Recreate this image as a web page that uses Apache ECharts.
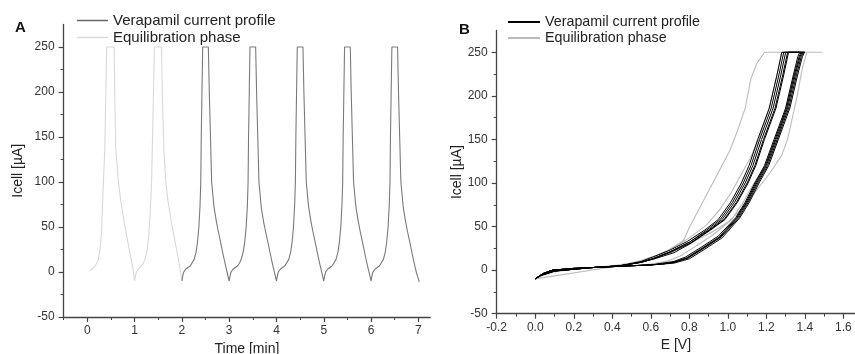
<!DOCTYPE html>
<html><head><meta charset="utf-8">
<script src="https://cdn.jsdelivr.net/npm/echarts@6/dist/echarts.min.js"></script>
<style>html,body{margin:0;padding:0;background:#fff}#c{width:855px;height:354px}</style>
</head><body><div id="c"></div>
<script>
// ---------- names / ticks ----------
const nameVer = 'Verapamil current profile';
const nameEq = 'Equilibration phase';
const aTicksX = [0, 1, 2, 3, 4, 5, 6, 7];
const aMinorX = [-0.5, 0.5, 1.5, 2.5, 3.5, 4.5, 5.5, 6.5];
const yTicks = [-50, 0, 50, 100, 150, 200, 250];
const yMinor = [-25, 25, 75, 125, 175, 225];
const bTicksX = [-0.2, 0.0, 0.2, 0.4, 0.6, 0.8, 1.0, 1.2, 1.4, 1.6];
const bMinorX = [-0.1, 0.1, 0.3, 0.5, 0.7, 0.9, 1.1, 1.3, 1.5];

// ---------- Panel A : current vs time ----------
const eqCycle1 = [[0.06,1],[0.12,4],[0.18,8],[0.23,13],[0.27,25],[0.30,43],[0.32,70],[0.34,98],[0.37,135],[0.39,190],[0.41,250],[0.57,250],[0.58,200],[0.60,140],[0.65,105],[0.70,82],[0.76,62],[0.81,47],[0.87,30],[0.93,14],[0.97,3],[1.00,-10]];
const eqCycle2 = [[1.00,-10],[1.02,-4],[1.04,0],[1.08,3],[1.13,6],[1.18,9],[1.22,14],[1.26,22],[1.30,40],[1.33,65],[1.36,100],[1.38,150],[1.40,200],[1.42,250],[1.57,250],[1.59,190],[1.62,135],[1.66,100],[1.71,78],[1.77,58],[1.82,44],[1.87,30],[1.92,16],[1.96,4],[2.00,-10]];
const verCycle3 = [[2.00,-10],[2.02,-4],[2.04,0],[2.08,3],[2.13,5],[2.18,7],[2.22,9],[2.26,14],[2.30,22],[2.33,33],[2.36,50],[2.385,75],[2.40,100],[2.41,150],[2.425,200],[2.44,250],[2.56,250],[2.58,200],[2.605,150],[2.63,100],[2.68,72],[2.73,56],[2.77,45],[2.82,33],[2.87,20],[2.92,8],[2.96,-1],[3.00,-10]];
const verCycle4 = [[3.00,-10],[3.02,-4],[3.04,0],[3.08,3],[3.13,5],[3.18,7],[3.22,10],[3.26,15],[3.30,23],[3.33,34],[3.36,50],[3.385,74],[3.40,100],[3.41,150],[3.425,200],[3.44,250],[3.56,250],[3.58,200],[3.605,150],[3.63,100],[3.68,71],[3.73,55],[3.77,45],[3.82,33],[3.87,20],[3.92,8],[3.96,-1],[4.00,-10]];
const verCycle5 = [[4.00,-10],[4.02,-4],[4.04,0],[4.08,3],[4.13,5],[4.18,7],[4.22,9],[4.26,14],[4.30,22],[4.33,33],[4.36,50],[4.385,75],[4.40,100],[4.41,150],[4.425,200],[4.44,250],[4.56,250],[4.58,200],[4.605,150],[4.63,100],[4.68,72],[4.73,56],[4.77,45],[4.82,33],[4.87,20],[4.92,8],[4.96,-1],[5.00,-10]];
const verCycle6 = [[5.00,-10],[5.02,-4],[5.04,0],[5.08,3],[5.13,5],[5.18,7],[5.22,9],[5.26,14],[5.30,22],[5.33,33],[5.36,50],[5.385,75],[5.40,100],[5.41,150],[5.425,200],[5.44,250],[5.56,250],[5.58,200],[5.605,150],[5.63,100],[5.68,72],[5.73,56],[5.77,45],[5.82,33],[5.87,20],[5.92,8],[5.96,-1],[6.00,-10]];
const verCycle7 = [[6.00,-10],[6.02,-4],[6.04,0],[6.08,3],[6.13,5],[6.18,7],[6.22,9],[6.26,14],[6.30,22],[6.33,33],[6.36,50],[6.385,75],[6.40,100],[6.41,150],[6.425,200],[6.44,250],[6.56,250],[6.58,200],[6.605,150],[6.63,100],[6.68,72],[6.73,56],[6.77,45],[6.82,33],[6.87,20],[6.92,8],[6.96,-1],[7.02,-11]];

// ---------- Panel B : current vs potential ----------
const eqLoopB1 = [[0,-10],[0.44,5],[0.62,13],[0.77,34],[0.80,49],[1.01,137],[1.05,160],[1.09,186],[1.12,220],[1.15,237],[1.19,250],[1.49,250],[1.41,250],[1.385,230],[1.36,200],[1.33,170],[1.31,150],[1.28,132],[1.22,112],[1.15,92],[1.08,72],[1.00,55],[0.92,44],[0.85,36],[0.76,27],[0.68,19],[0.60,13],[0.50,8],[0.40,5],[0.30,3],[0.20,2],[0.10,0],[0.04,-5],[0,-10]];
const eqLoopB2 = [[0,-10],[0.04,-6],[0.10,-2],[0.20,1],[0.30,3],[0.40,4],[0.50,5],[0.60,7],[0.68,10],[0.75,16],[0.83,27],[0.92,40],[1.02,58],[1.08,78],[1.13,98],[1.19,118],[1.23,135],[1.26,150],[1.30,186],[1.34,222],[1.37,244],[1.40,250],[1.42,250],[1.28,250],[1.255,224],[1.215,186],[1.16,150],[1.115,128],[1.07,110],[1.02,90],[0.96,70],[0.89,52],[0.80,37],[0.72,26],[0.63,17],[0.55,11],[0.45,6],[0.30,3],[0.20,2],[0.10,0],[0.04,-4],[0,-10]];
const verLoopB1 = [[0,-10],[0.03,-6],[0.10,-1],[0.20,1],[0.30,3],[0.40,4],[0.50,5],[0.60,6],[0.66,8],[0.72,10],[0.78,15],[0.86,26],[0.95,39],[1.04,60],[1.09,78],[1.14,100],[1.19,120],[1.24,150],[1.30,186],[1.34,224],[1.363,245],[1.373,250],[1.38,250],[1.28,250],[1.255,224],[1.215,186],[1.155,150],[1.11,120],[1.07,100],[1.015,78],[0.95,58],[0.88,46],[0.79,33],[0.70,23],[0.61,15],[0.55,10],[0.44,5],[0.30,3],[0.20,2],[0.09,0],[0.04,-4],[0,-10]];
const verLoopB2 = [[0,-10],[0.03,-6],[0.10,-1],[0.20,1],[0.30,3],[0.40,4],[0.50,5],[0.60,6],[0.66,7],[0.72,9],[0.785,14],[0.865,25],[0.955,38],[1.045,60],[1.095,78],[1.145,100],[1.195,120],[1.245,150],[1.305,186],[1.345,224],[1.37,245],[1.38,250],[1.39,250],[1.29,250],[1.265,224],[1.225,186],[1.165,150],[1.12,120],[1.08,100],[1.025,78],[0.96,58],[0.89,46],[0.80,32],[0.70,21],[0.61,13],[0.55,9],[0.44,5],[0.30,3],[0.20,2],[0.09,0],[0.04,-4],[0,-10]];
const verLoopB3 = [[0,-10],[0.03,-6],[0.10,-1],[0.20,1],[0.30,3],[0.40,4],[0.50,5],[0.60,6],[0.66,7],[0.72,9],[0.79,14],[0.87,25],[0.96,38],[1.05,60],[1.10,78],[1.15,100],[1.20,120],[1.25,150],[1.31,186],[1.35,224],[1.375,245],[1.385,250],[1.40,250],[1.30,250],[1.275,224],[1.235,186],[1.175,150],[1.13,120],[1.09,100],[1.035,78],[0.97,58],[0.90,46],[0.80,32],[0.70,21],[0.61,13],[0.55,9],[0.44,5],[0.30,3],[0.20,2],[0.09,0],[0.04,-4],[0,-10]];
const verLoopB4 = [[0,-10],[0.03,-6],[0.10,-1],[0.20,1],[0.30,3],[0.40,4],[0.50,5],[0.60,6],[0.66,7],[0.72,9],[0.795,14],[0.875,25],[0.965,38],[1.056,60],[1.106,78],[1.156,100],[1.206,120],[1.256,150],[1.316,186],[1.356,224],[1.381,245],[1.391,250],[1.40,250],[1.31,250],[1.285,224],[1.245,186],[1.185,150],[1.14,120],[1.10,100],[1.045,78],[0.98,58],[0.905,46],[0.805,31],[0.71,21],[0.61,13],[0.55,9],[0.44,5],[0.30,3],[0.20,2],[0.09,0],[0.04,-4],[0,-10]];
const verLoopB5 = [[0,-10],[0.03,-6],[0.10,-1],[0.20,1],[0.30,3],[0.40,4],[0.50,5],[0.60,6],[0.66,7],[0.72,8],[0.80,13],[0.88,24],[0.97,37],[1.062,60],[1.112,78],[1.162,100],[1.212,120],[1.262,150],[1.322,186],[1.362,224],[1.387,245],[1.397,250],[1.405,250],[1.315,250],[1.29,224],[1.25,186],[1.19,150],[1.145,120],[1.105,100],[1.05,78],[0.985,58],[0.91,46],[0.81,31],[0.72,20],[0.62,13],[0.55,9],[0.44,5],[0.30,3],[0.20,2],[0.09,0],[0.04,-4],[0,-10]];

// ---------- build ----------
const aEq = [].concat(eqCycle1, eqCycle2);
const aVer = [].concat(verCycle3, verCycle4, verCycle5, verCycle6, verCycle7);
const bEq = [].concat(eqLoopB1, eqLoopB2);
const bVer = [].concat(verLoopB1, verLoopB2, verLoopB3, verLoopB4, verLoopB5);

const FONT = 'Liberation Sans, Arial, sans-serif';
const AX = '#444';

function mainX(grid, min, max, ticks, fmt, name, gap) {
  return {
    type: 'value', gridIndex: grid, min: min, max: max, position: 'bottom',
    name: name, nameLocation: 'middle', nameGap: gap,
    nameTextStyle: {fontFamily: FONT, fontSize: 14, color: '#222'},
    axisLine: {show: true, onZero: false, lineStyle: {color: AX, width: 1.3}},
    axisTick: {show: true, length: 5, customValues: ticks, lineStyle: {color: AX, width: 1.2}},
    axisLabel: {show: true, customValues: ticks, margin: 8, fontFamily: FONT, fontSize: 12, color: '#333', formatter: fmt},
    splitLine: {show: false}
  };
}
function minorX(grid, min, max, ticks) {
  return {
    type: 'value', gridIndex: grid, min: min, max: max, position: 'bottom', offset: 0,
    axisLine: {show: false, onZero: false},
    axisTick: {show: true, length: 3, customValues: ticks, lineStyle: {color: AX, width: 1}},
    axisLabel: {show: false}, splitLine: {show: false}
  };
}
function mainY(grid, gap) {
  return {
    type: 'value', gridIndex: grid, min: -50, max: 275, position: 'left',
    name: 'Icell [µA]', nameLocation: 'middle', nameGap: gap, nameRotate: 90,
    nameTextStyle: {fontFamily: FONT, fontSize: 14, color: '#222'},
    axisLine: {show: true, onZero: false, lineStyle: {color: AX, width: 1.3}},
    axisTick: {show: true, length: 5, customValues: yTicks, lineStyle: {color: AX, width: 1.2}},
    axisLabel: {show: true, customValues: yTicks, margin: 9, fontFamily: FONT, fontSize: 12, color: '#333'},
    splitLine: {show: false}
  };
}
function minorY(grid) {
  return {
    type: 'value', gridIndex: grid, min: -50, max: 275, position: 'left', offset: 0,
    axisLine: {show: false, onZero: false},
    axisTick: {show: true, length: 3, customValues: yMinor, lineStyle: {color: AX, width: 1}},
    axisLabel: {show: false}, splitLine: {show: false}
  };
}

const chart = echarts.init(document.getElementById('c'), null, {renderer: 'canvas'});
chart.setOption({
  animation: false,
  backgroundColor: '#fff',
  title: [
    {text: 'A', left: 15, top: 20, padding: 0, textStyle: {fontFamily: FONT, fontSize: 15, fontWeight: 'bold', color: '#111'}},
    {text: 'B', left: 459, top: 22, padding: 0, textStyle: {fontFamily: FONT, fontSize: 15, fontWeight: 'bold', color: '#111'}}
  ],
  legend: [
    {left: 77, top: 13, padding: 0, orient: 'vertical', itemWidth: 31, itemHeight: 1.5, itemGap: 2, icon: 'rect', selectedMode: false,
     textStyle: {fontFamily: FONT, fontSize: 15, color: '#222'},
     data: [{name: nameVer, itemStyle: {color: '#666'}}, {name: nameEq, itemStyle: {color: '#d8d8d8'}}]},
    {left: 508, top: 15, padding: 0, orient: 'vertical', itemWidth: 32, itemHeight: 2, itemGap: 2, icon: 'rect', selectedMode: false,
     textStyle: {fontFamily: FONT, fontSize: 14.3, color: '#222'},
     data: [{name: nameVer, itemStyle: {color: '#000'}}, {name: nameEq, itemStyle: {color: '#bbb'}}]}
  ],
  grid: [
    {left: 63.6, top: 24.5, width: 366.6, height: 292.5, containLabel: false, outerBoundsMode: 'none'},
    {left: 496.7, top: 30.5, width: 358.3, height: 283.2, containLabel: false, outerBoundsMode: 'none'}
  ],
  xAxis: [
    mainX(0, -0.5, 7.25, aTicksX, null, 'Time [min]', 23),
    minorX(0, -0.5, 7.25, aMinorX),
    mainX(1, -0.2, 1.66, bTicksX, function (v) { return v.toFixed(1); }, 'E [V]', 24),
    minorX(1, -0.2, 1.66, bMinorX)
  ],
  yAxis: [mainY(0, 38), minorY(0), mainY(1, 25), minorY(1)],
  series: [
    {name: nameEq, type: 'line', xAxisIndex: 0, yAxisIndex: 0, data: aEq, showSymbol: false, symbol: 'none', color: '#d8d8d8', lineStyle: {width: 1.1, color: '#d8d8d8'}},
    {name: nameVer, type: 'line', xAxisIndex: 0, yAxisIndex: 0, data: aVer, showSymbol: false, symbol: 'none', color: '#7a7a7a', lineStyle: {width: 1.1, color: '#7a7a7a'}},
    {name: nameEq, type: 'line', xAxisIndex: 2, yAxisIndex: 2, data: bEq, showSymbol: false, symbol: 'none', color: '#bbb', lineStyle: {width: 1.1, color: '#bbb'}},
    {name: nameVer, type: 'line', xAxisIndex: 2, yAxisIndex: 2, data: bVer, showSymbol: false, symbol: 'none', color: '#000', lineStyle: {width: 1.0, color: '#000'}}
  ]
});
</script>
</body></html>
